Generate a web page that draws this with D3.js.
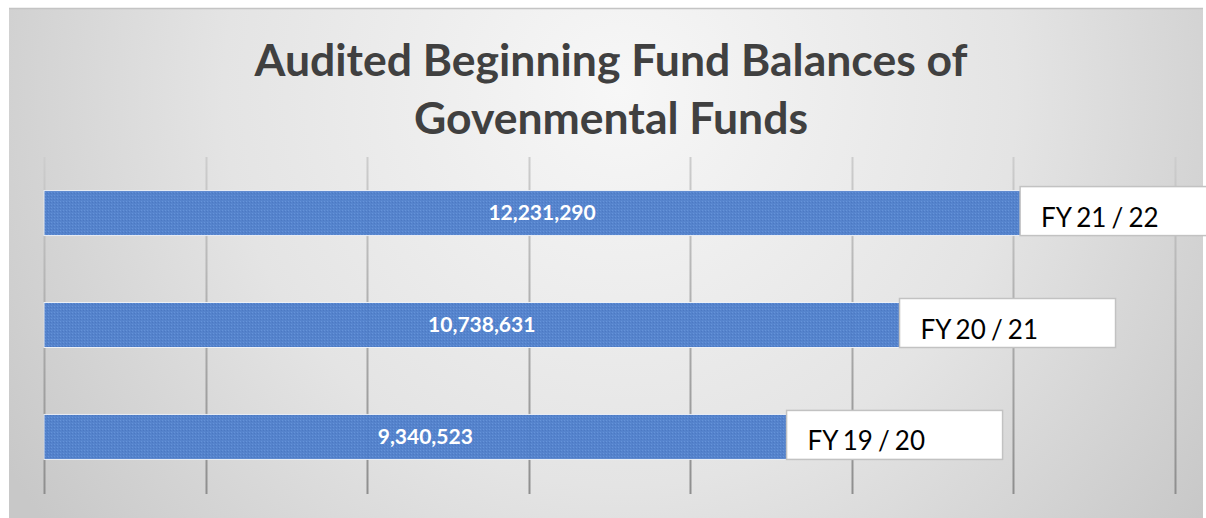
<!DOCTYPE html>
<html>
<head>
<meta charset="utf-8">
<script src="https://cdn.jsdelivr.net/npm/d3@7"></script>
<style>
  html, body { margin: 0; padding: 0; background: #ffffff; }
  svg { display: block; }
</style>
</head>
<body>
<div id="chart"></div>
<script>
// data, top to bottom
const years = ['FY 21 / 22', 'FY 20 / 21', 'FY 19 / 20']
const balances = [12231290, 10738631, 9340523]
const titleLines = ['Audited Beginning Fund Balances of', 'Govenmental Funds']
const gridTicks = [0, 2e6, 4e6, 6e6, 8e6, 10e6, 12e6, 14e6]

const width = 1206
const height = 518

const svg = d3.select('#chart')
	.append('svg')
	.attr('width', width)
	.attr('height', height)

const defs = svg.append('defs')

const bg = defs.append('radialGradient')
	.attr('id', 'bg')
	.attr('gradientUnits', 'userSpaceOnUse')
	.attr('cx', 620)
	.attr('cy', 90)
	.attr('r', 720)
bg.append('stop').attr('offset', 0).attr('stop-color', '#f7f7f7')
bg.append('stop').attr('offset', 0.55).attr('stop-color', '#e4e4e4')
bg.append('stop').attr('offset', 1).attr('stop-color', '#c8c8c8')

// gridlines fade out toward the top
const gl = defs.append('linearGradient')
	.attr('id', 'gridfade')
	.attr('gradientUnits', 'userSpaceOnUse')
	.attr('x1', 0).attr('x2', 0)
	.attr('y1', 157).attr('y2', 494)
gl.append('stop').attr('offset', 0).attr('stop-color', '#cdcdcd')
gl.append('stop').attr('offset', 0.5).attr('stop-color', '#acacac')
gl.append('stop').attr('offset', 1).attr('stop-color', '#8e8e8e')

// small dotted texture on the bars
const pat = defs.append('pattern')
	.attr('id', 'barfill')
	.attr('patternUnits', 'userSpaceOnUse')
	.attr('width', 3)
	.attr('height', 3)
pat.append('rect').attr('width', 3).attr('height', 3).attr('fill', '#5080cc')
pat.append('rect').attr('x', 0).attr('y', 0).attr('width', 1).attr('height', 1).attr('fill', '#6090d9')
pat.append('rect').attr('x', 2).attr('y', 1).attr('width', 1).attr('height', 1).attr('fill', '#4675c2')

// chart frame
svg.append('rect')
	.attr('x', 9)
	.attr('y', 8)
	.attr('width', 1194)
	.attr('height', 512)
	.attr('fill', 'url(#bg)')
svg.append('line')
	.attr('x1', 9).attr('x2', 1203)
	.attr('y1', 8.5).attr('y2', 8.5)
	.attr('stroke', '#c4c4c4')
	.attr('stroke-width', 1.5)

// title
const title = svg.append('text')
	.attr('text-anchor', 'middle')
	.attr('fill', '#404040')
	.style('font-family', 'Lato, "Open Sans", sans-serif')
	.style('font-weight', 'bold')
	.style('font-size', '44.5px')
title.selectAll('tspan')
	.data(titleLines)
	.enter()
	.append('tspan')
	.attr('x', 611)
	.attr('y', (d, i) => 76 + i * 58)
	.text(d => d)

const x = d3.scaleLinear()
	.domain([0, 14e6])
	.range([44, 1175])

const y = d3.scaleBand()
	.domain(years)
	.range([157, 493])
	.paddingInner(0.598)
	.paddingOuter(0.3)

// vertical gridlines
svg.append('g')
	.selectAll('line')
	.data(gridTicks)
	.enter()
	.append('line')
	.attr('x1', d => Math.round(x(d)) + 0.5)
	.attr('x2', d => Math.round(x(d)) + 0.5)
	.attr('y1', 157)
	.attr('y2', 494)
	.attr('stroke', 'url(#gridfade)')
	.attr('stroke-width', 2)

const rows = svg.append('g')
	.selectAll('g')
	.data(years)
	.enter()
	.append('g')

rows.append('rect')
	.attr('x', x(0))
	.attr('y', d => y(d))
	.attr('width', (d, i) => x(balances[i]) - x(0))
	.attr('height', y.bandwidth())
	.attr('fill', 'url(#barfill)')
	.attr('opacity', 0.96)
	.attr('stroke', '#eef2f8')
	.attr('stroke-width', 1)

rows.append('text')
	.attr('x', (d, i) => (x(0) + x(balances[i])) / 2 + 4)
	.attr('y', d => y(d) + y.bandwidth() / 2 + 7)
	.attr('text-anchor', 'middle')
	.attr('fill', '#ffffff')
	.style('font-family', 'Lato, "Open Sans", sans-serif')
	.style('font-weight', 'bold')
	.style('font-size', '21px')
	.text((d, i) => d3.format(',')(balances[i]))

// category label boxes next to the bar ends
const boxW = 216
rows.append('rect')
	.attr('x', (d, i) => x(balances[i]) - 12)
	.attr('y', d => y(d) - 4)
	.attr('width', boxW)
	.attr('height', 49)
	.attr('fill', '#ffffff')
	.attr('stroke', '#c2c2c2')
	.attr('stroke-width', 1.5)

rows.append('text')
	.attr('x', (d, i) => x(balances[i]) - 12 + 21)
	.attr('y', d => y(d) + 36)
	.attr('fill', '#000000')
	.style('font-family', 'Lato, "Open Sans", sans-serif')
	.style('font-size', '26px')
	.style('word-spacing', '-1.5px')
	.text(d => d)
</script>
</body>
</html>
